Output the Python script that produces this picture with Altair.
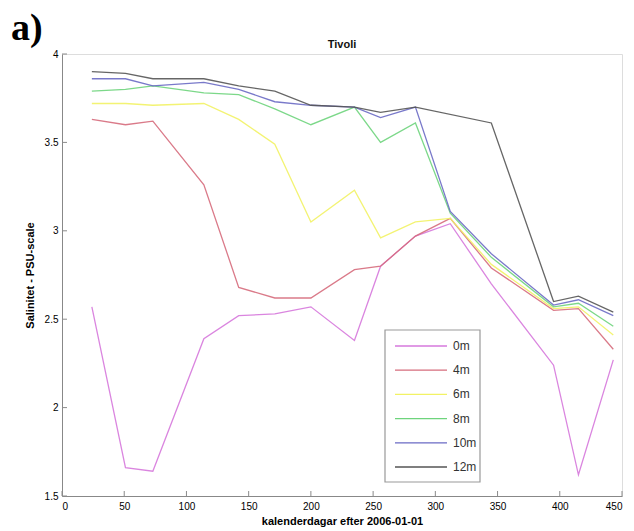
import altair as alt
import pandas as pd

# Sampling days (calendar days after 2006-01-01)
days = [24, 51, 73, 114, 142, 171, 200, 235, 256, 284, 312, 345, 395, 415, 443]

# Salinity (PSU) at each depth; None = no sample that day
sal_0m = [2.57, 1.66, 1.64, 2.39, 2.52, 2.53, 2.57, 2.38, 2.80, 2.97, 3.04, 2.70, 2.24, 1.62, 2.27]
sal_4m = [3.63, 3.60, 3.62, 3.26, 2.68, 2.62, 2.62, 2.78, 2.80, 2.97, 3.07, 2.79, 2.55, 2.56, 2.33]
sal_6m = [3.72, 3.72, 3.71, 3.72, 3.63, 3.49, 3.05, 3.23, 2.96, 3.05, 3.07, 2.81, 2.56, 2.57, 2.41]
sal_8m = [3.79, 3.80, 3.82, 3.78, 3.77, 3.69, 3.60, 3.70, 3.50, 3.61, 3.10, 2.85, 2.57, 2.59, 2.46]
sal_10m = [3.86, 3.86, 3.82, 3.84, 3.80, 3.73, 3.71, 3.70, 3.64, 3.70, 3.11, 2.87, 2.58, 2.61, 2.52]
sal_12m = [3.90, 3.89, 3.86, 3.86, 3.82, 3.79, 3.71, 3.70, 3.67, 3.70, None, 3.61, 2.60, 2.63, 2.54]

depths = ["0m", "4m", "6m", "8m", "10m", "12m"]
series = [sal_0m, sal_4m, sal_6m, sal_8m, sal_10m, sal_12m]
colors = ["#d678dc", "#d66c7c", "#f2f264", "#6ed47c", "#6a6ac4", "#555555"]

x_ticks = [0, 50, 100, 150, 200, 250, 300, 350, 400, 450]
y_ticks = [1.5, 2, 2.5, 3, 3.5, 4]

rows = []
for order, (name, vals) in enumerate(zip(depths, series)):
    for d, v in zip(days, vals):
        if v is not None:
            rows.append({"dag": d, "salt": v, "djup": name, "ordning": order})
df = pd.DataFrame(rows)
legend_df = pd.DataFrame({"djup": depths, "idx": list(range(len(depths)))})

W, H = 560, 442
FONT = "Liberation Sans"
AXIS_GREY = "#8a8a8a"

x_scale = alt.Scale(domain=[0, 450], nice=False, zero=False)
y_scale = alt.Scale(domain=[1.5, 4], nice=False, zero=False)
c_scale = alt.Scale(domain=depths, range=colors)

lines = alt.Chart(df).mark_line(strokeWidth=1.3, opacity=0.9).encode(
    x=alt.X("dag:Q", scale=x_scale,
            axis=alt.Axis(title="kalenderdagar efter 2006-01-01", values=x_ticks,
                          ticks=False, grid=False, labelPadding=5,
                          titlePadding=4)),
    y=alt.Y("salt:Q", scale=y_scale,
            axis=alt.Axis(title="Salinitet - PSU-scale", values=y_ticks,
                          ticks=False, grid=False, labelPadding=4,
                          labelExpr="'' + datum.value", titlePadding=9)),
    color=alt.Color("djup:N", sort=depths, scale=c_scale, legend=None),
    order=alt.Order("ordning:Q"),
    detail="djup:N",
)

# inward-pointing tick marks
xt = alt.Chart(pd.DataFrame({"v": x_ticks})).mark_rule(color=AXIS_GREY, strokeWidth=1).encode(
    x=alt.X("v:Q", scale=x_scale), y=alt.value(H), y2=alt.value(H - 5))
yt = alt.Chart(pd.DataFrame({"v": y_ticks})).mark_rule(color=AXIS_GREY, strokeWidth=1).encode(
    y=alt.Y("v:Q", scale=y_scale), x=alt.value(0), x2=alt.value(5))

# boxed legend inside the plot, one row per depth
LX, LY, ROW = 323, 292, 24.2
legend_box = alt.Chart(pd.DataFrame({"k": [0]})).mark_rect(
    fill="white", stroke="#999999", strokeWidth=1.2
).encode(x=alt.value(LX), x2=alt.value(LX + 95),
         y=alt.value(LY - 16), y2=alt.value(LY - 16 + 152))
legend_base = alt.Chart(legend_df).transform_calculate(
    ly=f"{LY} + {ROW} * datum.idx")
legend_lines = legend_base.mark_rule(strokeWidth=1.3).encode(
    x=alt.value(LX + 10), x2=alt.value(LX + 62),
    y=alt.Y("ly:Q", scale=None),
    color=alt.Color("djup:N", scale=c_scale, legend=None))
legend_text = legend_base.mark_text(
    font=FONT, fontSize=12, align="left", baseline="middle", color="#333333"
).encode(x=alt.value(LX + 68), y=alt.Y("ly:Q", scale=None), text="djup:N")

# panel tag and plot heading
panel_tag = alt.Chart(pd.DataFrame({"t": ["a)"]})).mark_text(
    font="Liberation Serif", fontWeight="bold", fontSize=38,
    align="left", baseline="alphabetic", color="black"
).encode(text="t:N", x=alt.value(-51), y=alt.value(-14))

heading = alt.Chart(pd.DataFrame({"t": ["Tivoli"]})).mark_text(
    font=FONT, fontWeight="bold", fontSize=11,
    align="center", baseline="alphabetic", color="#111111"
).encode(text="t:N", x=alt.value(W / 2), y=alt.value(-6))

chart = alt.layer(lines, xt, yt, legend_box, legend_lines, legend_text,
                  panel_tag, heading).properties(
    width=W, height=H,
    autosize=alt.AutoSizeParams(type="none"),
    padding={"left": 62, "top": 54, "right": 12, "bottom": 35},
).configure_view(stroke=None).configure_axis(
    domainColor=AXIS_GREY, domainWidth=1.2,
    labelFont=FONT, labelFontSize=12, labelColor="#333333",
    titleFont=FONT, titleFontSize=11, titleFontWeight="bold", titleColor="#111111",
).configure(background="white")

chart.save("out.html", embed_options={"renderer": "svg", "actions": False})
